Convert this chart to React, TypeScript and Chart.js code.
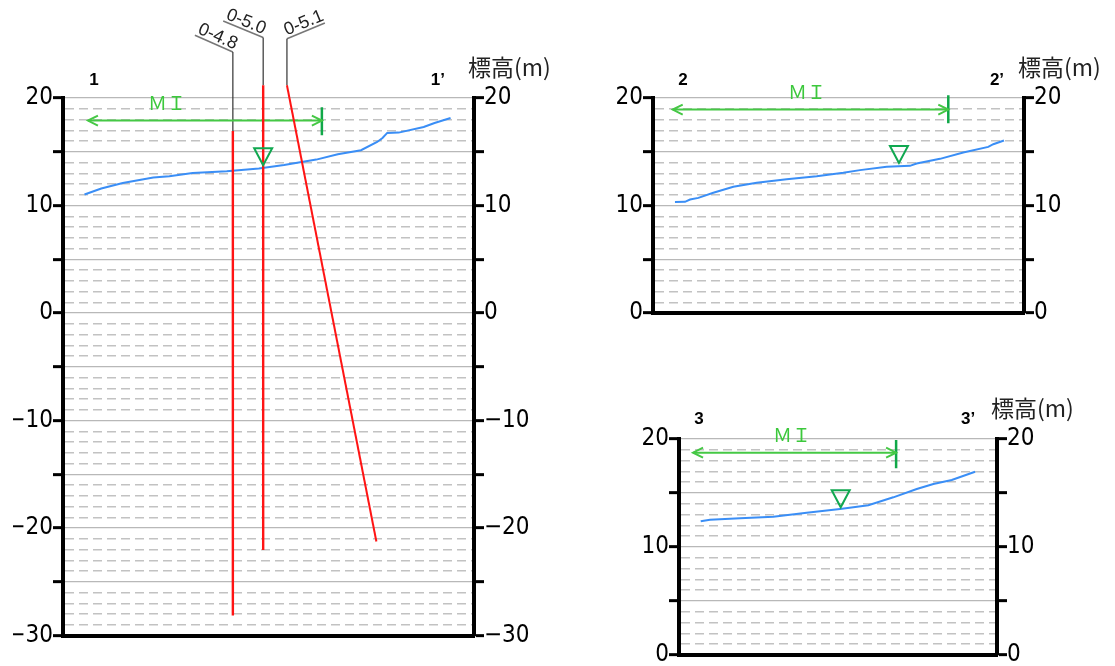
import React, { useEffect, useRef } from 'react';
import { Chart, registerables } from 'chart.js';

Chart.register(...registerables);

const NARROW = '"Liberation Sans Narrow", "DejaVu Sans Condensed", "Arial Narrow", sans-serif';
const SANS = '"Liberation Sans", Arial, sans-serif';
const CJK = '"Noto Sans CJK JP", sans-serif';

// ---------- Panel 1 (section 1-1') ----------
const p1SectionNames = ['1', '1’'];
const p1SectionX = [2.88, 34.86];
const p1TickLabels = [20, 10, 0, -10, -20, -30];
const p1MajorTicks = [20, 15, 10, 5, 0, -5, -10, -15, -20, -25, -30];
const p1GroundX = [2.0, 3.56, 5.56, 8.4, 9.89, 12.06, 15.23, 18.22, 20.56, 23.56, 25.56, 27.72, 29.22, 29.72, 30.16, 31.22, 33.55, 34.56, 36.05];
const p1GroundY = [11.02, 11.58, 12.1, 12.6, 12.72, 13.03, 13.19, 13.44, 13.77, 14.27, 14.77, 15.14, 15.91, 16.28, 16.75, 16.78, 17.3, 17.68, 18.14];
const boreholeNames = ['0-4.8', '0-5.0', '0-5.1'];
const boreholeTopX = [15.8, 18.62, 20.83];
const boreholeTopY = [16.93, 21.18, 21.18];
const boreholeBottomX = [15.8, 18.62, 29.15];
const boreholeBottomY = [-28.15, -22.05, -21.26];
const leaderTopY = [24.28, 25.62, 25.52];
const leaderEndX = [12.27, 14.9, 24.36];
const leaderEndY = [25.83, 27.16, 26.97];

// ---------- Panel 2 (section 2-2') ----------
const p2SectionNames = ['2', '2’'];
const p2SectionX = [2.79, 31.94];
const p2TickLabels = [20, 10, 0];
const p2MajorTicks = [20, 15, 10, 5, 0];
const p2GroundX = [2.04, 2.97, 3.44, 4.21, 5.6, 7.46, 9.63, 12.41, 15.2, 17.67, 19.22, 21.7, 23.86, 24.48, 26.65, 28.81, 31.13, 31.6, 32.59];
const p2GroundY = [10.32, 10.34, 10.56, 10.71, 11.18, 11.74, 12.11, 12.45, 12.73, 13.04, 13.29, 13.6, 13.69, 13.91, 14.34, 14.93, 15.45, 15.7, 16.04];

// ---------- Panel 3 (section 3-3') ----------
const p3SectionNames = ['3', '3’'];
const p3SectionX = [1.85, 26.76];
const p3TickLabels = [20, 10, 0];
const p3MajorTicks = [20, 15, 10, 5, 0];
const p3GroundX = [2.01, 2.87, 5.65, 8.73, 11.82, 14.91, 16.14, 17.53, 19.84, 22.01, 23.55, 25.25, 27.41];
const p3GroundY = [12.38, 12.53, 12.66, 12.81, 13.18, 13.52, 13.67, 13.86, 14.6, 15.37, 15.83, 16.2, 16.97];

// ---------- MI ranges and water levels (panels 1,2,3) ----------
const miStartX = [2.32, 1.83, 1.3];
const miEndX = [24.08, 27.42, 20.1];
const miY = [17.9, 18.92, 18.73];
const miBarTop = [19.13, 20.25, 19.9];
const miBarBottom = [16.53, 17.64, 17.3];
const miLabelX = [9.67, 14.3, 10.46];
const waterX = [18.62, 22.84, 14.97];
const waterY = [13.75, 13.96, 13.68];

const yMins = [-30, 0, 0];
const yMaxs = [20, 20, 20];
const xMaxs = [38.23, 34.45, 29.44];

type Pad = { left: number; right: number; top: number; bottom: number };
type Panel = {
  idx: number;
  left: number; top: number; w: number; h: number;
  padding: Pad;
  sectionNames: string[]; sectionX: number[];
  tickLabels: number[]; majorTicks: number[];
  groundX: number[]; groundY: number[];
  boreholes: boolean;
};

const panels: Panel[] = [
  { idx: 0, left: 0, top: 0, w: 600, h: 666, padding: { left: 13, right: 66, top: 98, bottom: 26.5 },
    sectionNames: p1SectionNames, sectionX: p1SectionX, tickLabels: p1TickLabels, majorTicks: p1MajorTicks,
    groundX: p1GroundX, groundY: p1GroundY, boreholes: true },
  { idx: 1, left: 600, top: 0, w: 515, h: 340, padding: { left: 3, right: 31, top: 98, bottom: 23 },
    sectionNames: p2SectionNames, sectionX: p2SectionX, tickLabels: p2TickLabels, majorTicks: p2MajorTicks,
    groundX: p2GroundX, groundY: p2GroundY, boreholes: false },
  { idx: 2, left: 600, top: 340, w: 515, h: 326, padding: { left: 29, right: 58, top: 99, bottom: 7 },
    sectionNames: p3SectionNames, sectionX: p3SectionX, tickLabels: p3TickLabels, majorTicks: p3MajorTicks,
    groundX: p3GroundX, groundY: p3GroundY, boreholes: false },
];

const fmt = (v: number) => (v < 0 ? '−' + Math.abs(v) : String(v));

const line = (data: { x: number; y: number }[], color: string, width: number) => ({
  data, showLine: true, borderColor: color, borderWidth: width, pointRadius: 0, pointHoverRadius: 0,
  fill: false, clip: false as any, tension: 0, borderCapStyle: 'butt',
});

function buildChart(canvas: HTMLCanvasElement, p: Panel) {
  const i = p.idx;
  const datasets: any[] = [];
  if (p.boreholes) {
    for (let b = 0; b < boreholeNames.length; b++) {
      datasets.push(line([{ x: boreholeTopX[b], y: boreholeTopY[b] }, { x: boreholeBottomX[b], y: boreholeBottomY[b] }], '#ff1414', b === 2 ? 2 : 2.4));
    }
  }
  datasets.push(line(p.groundX.map((x, k) => ({ x, y: p.groundY[k] })), '#3a8ef6', 2));
  datasets.push(line([{ x: miStartX[i], y: miY[i] }, { x: miEndX[i], y: miY[i] }], '#45c845', 2));
  datasets.push(line([{ x: miEndX[i], y: miBarTop[i] }, { x: miEndX[i], y: miBarBottom[i] }], '#10a848', 2.5));
  if (p.boreholes) {
    for (let b = 0; b < boreholeNames.length; b++) {
      datasets.push(line([{ x: boreholeTopX[b], y: boreholeTopY[b] }, { x: boreholeTopX[b], y: leaderTopY[b] }], '#333333', 1.2));
      datasets.push(line([{ x: boreholeTopX[b], y: leaderTopY[b] }, { x: leaderEndX[b], y: leaderEndY[b] }], '#777777', 1.6));
    }
  }

  const isMajor = (v: number) => p.majorTicks.includes(v);
  const yAxis = (position: 'left' | 'right') => ({
    type: 'linear', position, min: yMins[i], max: yMaxs[i],
    afterFit: (s: any) => { s.width = position === 'left' ? 50 : 60; s.paddingTop = 0; s.paddingBottom = 0; },
    ticks: {
      stepSize: 1, autoSkip: false, padding: 0, color: '#000',
      font: { family: NARROW, size: 24, lineHeight: 1 },
      callback: (v: any) => (p.tickLabels.includes(Number(v)) ? fmt(Number(v)) : ''),
    },
    grid: {
      drawOnChartArea: position === 'left', drawTicks: true, tickLength: 10, tickWidth: 3,
      tickColor: (c: any) => (c.tick && isMajor(c.tick.value) ? '#000' : 'rgba(0,0,0,0)'),
      color: (c: any) => (c.tick && isMajor(c.tick.value) ? '#b8b8b8' : '#c2c2c2'),
      lineWidth: (c: any) => (c.tick && isMajor(c.tick.value) ? 1.3 : 1.5),
    },
    border: {
      display: true, color: '#000', width: 4,
      dash: (c: any) => (c.tick && !isMajor(c.tick.value) ? [9, 5] : []),
    },
  });

  const decor = {
    id: 'decor' + i,
    afterDatasetsDraw(chart: any) {
      const { ctx, chartArea } = chart;
      const x = chart.scales.x, y = chart.scales.y;
      ctx.save();
      // arrowheads of MI range
      const ay = y.getPixelForValue(miY[i]);
      const ax1 = x.getPixelForValue(miStartX[i]);
      const ax2 = x.getPixelForValue(miEndX[i]);
      ctx.strokeStyle = '#45c845';
      ctx.lineWidth = 2;
      ctx.beginPath();
      ctx.moveTo(ax1 + 10, ay - 5); ctx.lineTo(ax1, ay); ctx.lineTo(ax1 + 10, ay + 5);
      ctx.moveTo(ax2 - 10, ay - 5); ctx.lineTo(ax2, ay); ctx.lineTo(ax2 - 10, ay + 5);
      ctx.stroke();
      // MI label
      ctx.fillStyle = '#3cc83c';
      ctx.font = '19px ' + CJK;
      ctx.textAlign = 'center';
      ctx.textBaseline = 'middle';
      ctx.fillText('ＭＩ', x.getPixelForValue(miLabelX[i]), ay - 18);
      // water level triangle
      const wx = x.getPixelForValue(waterX[i]);
      const wy = y.getPixelForValue(waterY[i]);
      ctx.strokeStyle = '#10a850';
      ctx.lineWidth = 2;
      ctx.beginPath();
      ctx.moveTo(wx, wy); ctx.lineTo(wx - 9, wy - 17); ctx.lineTo(wx + 9, wy - 17); ctx.closePath();
      ctx.stroke();
      // section names
      ctx.fillStyle = '#000';
      ctx.font = 'bold 17px ' + SANS;
      ctx.textAlign = 'center';
      ctx.textBaseline = 'middle';
      const sy = chartArea.top - (i === 2 ? 20 : 18);
      p.sectionNames.forEach((n, k) => ctx.fillText(n, x.getPixelForValue(p.sectionX[k]), sy));
      // axis title
      ctx.fillStyle = '#222';
      ctx.font = '23px ' + CJK;
      ctx.textAlign = 'left';
      ctx.fillText('標高(m)', chartArea.right - 6, chartArea.top - 31);
      // borehole names
      if (p.boreholes) {
        ctx.font = '18px ' + SANS;
        ctx.fillStyle = '#222';
        ctx.textBaseline = 'alphabetic';
        for (let b = 0; b < boreholeNames.length; b++) {
          const A = { x: x.getPixelForValue(boreholeTopX[b]), y: y.getPixelForValue(leaderTopY[b]) };
          const B = { x: x.getPixelForValue(leaderEndX[b]), y: y.getPixelForValue(leaderEndY[b]) };
          const L = A.x < B.x ? A : B;
          const R = A.x < B.x ? B : A;
          const ang = Math.atan2(R.y - L.y, R.x - L.x);
          ctx.save();
          ctx.translate(L.x, L.y);
          ctx.rotate(ang);
          ctx.fillText(boreholeNames[b], 1, -3);
          ctx.restore();
        }
      }
      ctx.restore();
    },
  };

  return new Chart(canvas, {
    type: 'scatter',
    data: { datasets },
    options: {
      animation: false,
      responsive: false,
      devicePixelRatio: 1,
      events: [],
      layout: { padding: p.padding },
      plugins: { legend: { display: false }, tooltip: { enabled: false } },
      scales: {
        x: {
          type: 'linear', position: 'bottom', min: 0, max: xMaxs[i],
          afterFit: (s: any) => { s.height = 4; },
          ticks: { display: false },
          grid: { display: false, drawTicks: false },
          border: { display: true, color: '#000', width: 4 },
        },
        y: yAxis('left'),
        y2: yAxis('right'),
      } as any,
    },
    plugins: [decor],
  } as any);
}

function PanelCanvas({ p }: { p: Panel }) {
  const ref = useRef<HTMLCanvasElement | null>(null);
  useEffect(() => {
    if (!ref.current) return;
    const c = buildChart(ref.current, p);
    return () => c.destroy();
  }, [p]);
  return (
    <canvas
      ref={ref}
      width={p.w}
      height={p.h}
      style={{ position: 'absolute', left: p.left, top: p.top, width: p.w, height: p.h }}
    />
  );
}

export default function App() {
  return (
    <div style={{ position: 'absolute', left: 0, top: 0, width: 1115, height: 666, background: '#fff', overflow: 'hidden' }}>
      {panels.map((p) => (
        <PanelCanvas key={p.idx} p={p} />
      ))}
    </div>
  );
}
